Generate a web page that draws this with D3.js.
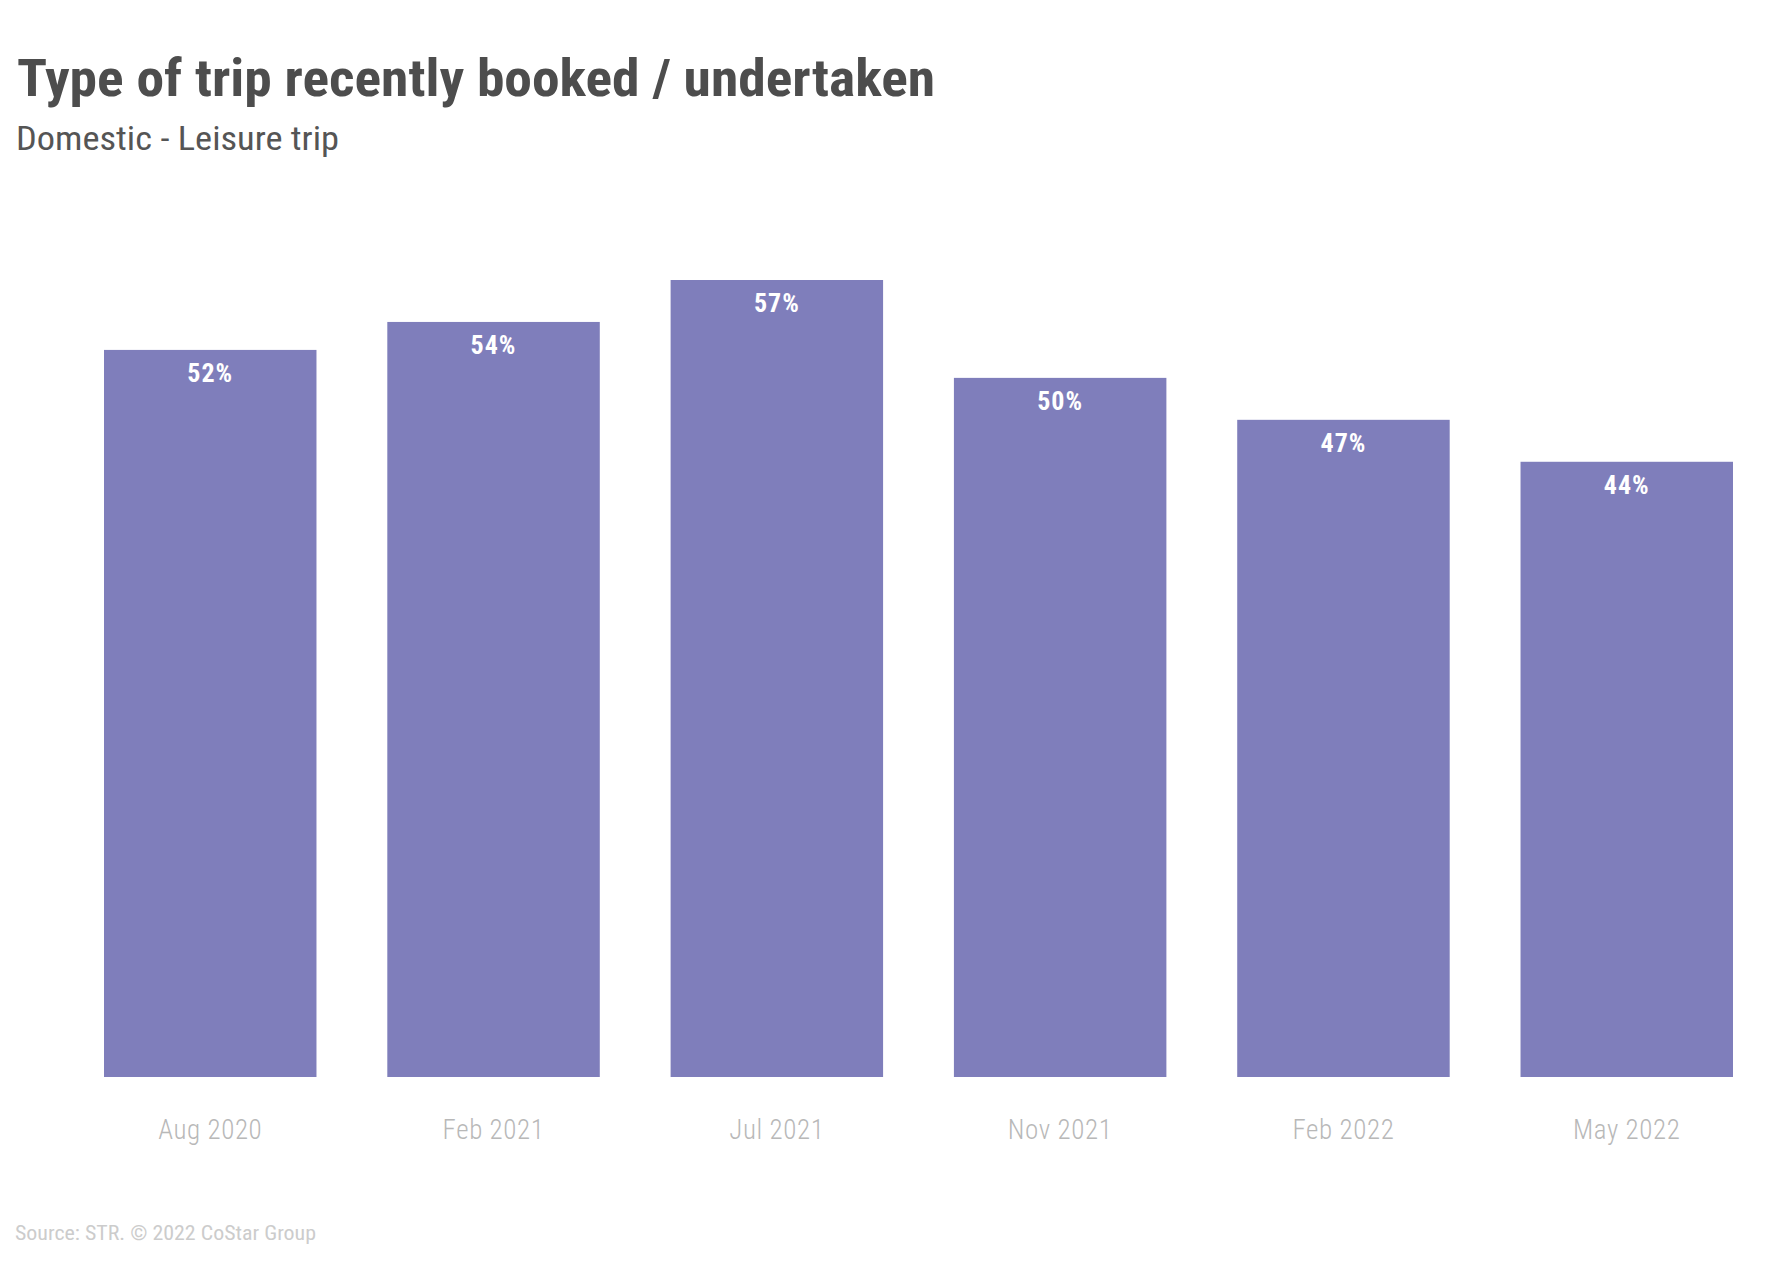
<!DOCTYPE html>
<html>
<head>
<meta charset="utf-8">
<script src="https://cdn.jsdelivr.net/npm/d3@7"></script>
<style>
  html, body { margin: 0; padding: 0; background: #ffffff; }
  svg { display: block; font-family: "Roboto Condensed", Roboto, "Liberation Sans", sans-serif; }
</style>
</head>
<body>
<svg id="chart" width="1787" height="1271"></svg>
<script>
const categories = ["Aug 2020", "Feb 2021", "Jul 2021", "Nov 2021", "Feb 2022", "May 2022"];
const values = [52, 54, 57, 50, 47, 44];
const title = "Type of trip recently booked / undertaken";
const subtitle = "Domestic - Leisure trip";
const source = "Source: STR. \u00a9 2022 CoStar Group";

const svg = d3.select("#chart");
const plot = { left: 104, right: 1733, top: 280, bottom: 1077 };

const x = d3.scaleBand()
  .domain(categories)
  .range([plot.left, plot.right])
  .paddingInner(0.25)
  .paddingOuter(0);

const y = d3.scaleLinear()
  .domain([0, d3.max(values)])
  .range([plot.bottom, plot.top]);

// Title & subtitle
svg.append("text")
  .attr("x", 17).attr("y", 96)
  .attr("font-size", 52).attr("font-weight", 700)
  .attr("fill", "#4d4d4d")
  .attr("textLength", 918).attr("lengthAdjust", "spacingAndGlyphs")
  .text(title);

svg.append("text")
  .attr("x", 16).attr("y", 150)
  .attr("font-size", 33).attr("font-weight", 400)
  .attr("fill", "#555555")
  .attr("textLength", 323).attr("lengthAdjust", "spacingAndGlyphs")
  .text(subtitle);

// Bars
const data = categories.map((c, i) => ({ c, v: values[i] }));
svg.append("g").selectAll("rect").data(data).join("rect")
  .attr("x", d => x(d.c))
  .attr("y", d => y(d.v))
  .attr("width", x.bandwidth())
  .attr("height", d => y(0) - y(d.v))
  .attr("fill", "#7f7ebb");

// Value labels
svg.append("g").selectAll("text").data(data).join("text")
  .attr("x", d => x(d.c) + x.bandwidth() / 2)
  .attr("y", d => y(d.v) + 32)
  .attr("text-anchor", "middle")
  .attr("font-size", 26).attr("font-weight", 700)
  .attr("letter-spacing", 1)
  .attr("fill", "#ffffff")
  .text(d => d.v + "%");

// X axis
const xAxis = svg.append("g")
  .attr("transform", `translate(0,${plot.bottom})`)
  .call(d3.axisBottom(x).tickSize(0).tickPadding(0));
xAxis.select(".domain").remove();
xAxis.selectAll("text")
  .attr("y", 62)
  .attr("dy", 0)
  .attr("font-family", "\"Roboto Condensed\", Roboto, sans-serif")
  .attr("font-size", 27)
  .attr("font-weight", 300)
  .attr("letter-spacing", 0.6)
  .attr("fill", "#b8b8b8");

// Source
svg.append("text")
  .attr("x", 15).attr("y", 1240)
  .attr("font-size", 20)
  .attr("fill", "#cccccc")
  .attr("textLength", 301).attr("lengthAdjust", "spacingAndGlyphs")
  .text(source);
</script>
</body>
</html>
